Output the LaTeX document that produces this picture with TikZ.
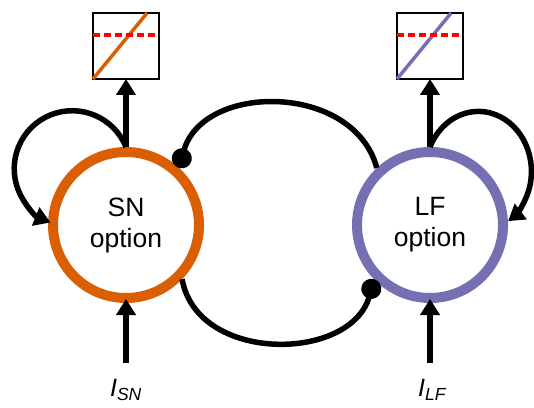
\documentclass[tikz,border=0pt]{standalone}
\usepackage{fontspec}
\setmainfont{Liberation Sans}
\usetikzlibrary{arrows.meta,calc}
\definecolor{snOrange}{HTML}{D95F02}
\definecolor{lfPurple}{HTML}{7570B3}

\begin{document}
\begin{tikzpicture}[x=1pt, y=1pt, >={Triangle[length=16pt,width=19pt]},
          opt/.style={circle, draw, line width=10pt, minimum size=146pt, inner sep=0pt, align=center, font=\fontsize{26.5}{31}\selectfont},
          plot/.style={draw, line width=2pt, minimum size=66pt, inner sep=0pt, outer sep=0pt},
          link/.style={line width=5.5pt, black},
          inh/.style={link, -{Circle[length=20pt]}},
          inp/.style={font=\fontsize{25}{30}\selectfont\itshape}]
        \useasboundingbox (0,0) rectangle (534,407);
        \node[opt, draw=snOrange] (sn) at (126,182) {SN\\option};
        \node[opt, draw=lfPurple] (lf) at (430,182) {LF\\option};
        \node[plot] (bsn) at (126,361) {};
        \node[plot] (blf) at (430,361) {};
        % little plots
        \draw[snOrange, line width=3.5pt] (bsn.south west) -- ($(bsn.north west)!0.82!(bsn.north east)$);
        \draw[lfPurple, line width=3.5pt] (blf.south west) -- ($(blf.north west)!0.82!(blf.north east)$);
        \draw[red, line width=4pt, dash pattern=on 7pt off 4pt] ($(bsn.north west)!0.33!(bsn.south west)$) -- ($(bsn.north east)!0.33!(bsn.south east)$);
        \draw[red, line width=4pt, dash pattern=on 7pt off 4pt] ($(blf.north west)!0.33!(blf.south west)$) -- ($(blf.north east)!0.33!(blf.south east)$);
        \draw[link, ->] (sn.north) -- (bsn.south);
        \draw[link, ->] (lf.north) -- (blf.south);
        % self loops
        \draw[link, ->] (sn.north) arc[start angle=22, end angle=248, radius=58];
        \draw[link, ->] (lf.north) arc[start angle=156, end angle=-56, x radius=53, y radius=60];
        % mutual links
        \draw[inh] (lf.133) to[out=105, in=75, looseness=1.15] (sn.47);
        \draw[inh] (sn.-44) to[out=-80, in=-105, looseness=1.15] (lf.224);
        % inputs
        \node[inp] (isn) at (126,17) {I\textsubscript{SN}};
        \node[inp] (ilf) at (432,17) {I\textsubscript{LF}};
        \coordinate (insn) at (126,44);
        \coordinate (inlf) at (430,44);
        \draw[link, ->, shorten >=-4pt] (insn) -- (sn.south);
        \draw[link, ->, shorten >=-4pt] (inlf) -- (lf.south);
      \end{tikzpicture}
\end{document}
